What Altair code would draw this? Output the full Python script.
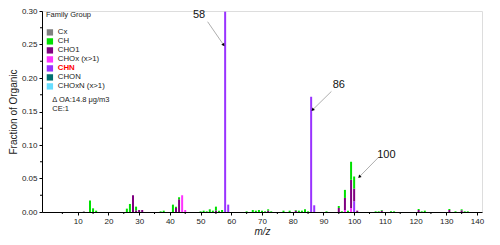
import altair as alt
import pandas as pd

families = ["Cx", "CH", "CHO1", "CHOx (x>1)", "CHN", "CHON", "CHOxN (x>1)"]
colors = ["#808080", "#00e000", "#800080", "#ff33ff", "#9933ff", "#007070", "#66ddff"]
stack_rank = {"CHN": 0, "CHON": 1, "CHOxN (x>1)": 2, "CHOx (x>1)": 3, "CHO1": 4, "CH": 5, "Cx": 6}

mz = [12, 14, 15, 16, 26, 27, 28, 29, 29, 30, 31, 37, 38, 41, 42, 42, 43, 43, 44, 45,
      50, 51, 52, 53, 54, 55, 55, 56, 57, 58, 59, 65, 67, 68, 69, 70, 71, 72, 72, 73,
      77, 79, 81, 81, 82, 83, 84, 85, 86, 87, 91, 95, 95, 96, 97, 97, 97, 98, 99, 99, 99,
      100, 100, 100, 101, 107, 108, 109, 109, 112, 113, 121, 121, 122, 123, 131, 131,
      133, 135, 135, 136, 137]
family = ["Cx", "CH", "CH", "CH", "CH", "CH", "CHO1", "CH", "CHO1", "CHO1", "CHO1", "CH", "CH",
          "CH", "CHO1", "CH", "CHO1", "CH", "CHOx (x>1)", "CHOx (x>1)",
          "CH", "CH", "CH", "CH", "CH", "CH", "CHO1", "CH", "CH", "CHN", "CHN", "CH", "CH", "CH",
          "CH", "CH", "CH", "CHO1", "CH", "CH",
          "CH", "CH", "CHO1", "CH", "CH", "CH", "CH", "CH", "CHN", "CHN", "CH", "CHO1", "CH", "CH",
          "CHOx (x>1)", "CHO1", "CH", "CH", "CHOx (x>1)", "CHO1", "CH",
          "CHN", "CHO1", "CH", "CHO1", "CH", "CH", "CHO1", "CH", "CH", "CH", "CHO1", "CH", "CH", "CH",
          "CHO1", "CH", "CH", "CHO1", "CH", "CH", "CH"]
fraction = [0.001, 0.017, 0.0055, 0.002, 0.005, 0.012, 0.025, 0.006, 0.002, 0.003, 0.003, 0.001, 0.002,
            0.011, 0.006, 0.002, 0.019, 0.003, 0.025, 0.003,
            0.001, 0.002, 0.001, 0.004, 0.002, 0.006, 0.002, 0.002, 0.003, 0.299, 0.011, 0.001, 0.003, 0.002,
            0.003, 0.002, 0.001, 0.002, 0.002, 0.001,
            0.002, 0.002, 0.002, 0.001, 0.002, 0.002, 0.004, 0.001, 0.172, 0.010, 0.001, 0.006, 0.003, 0.001,
            0.003, 0.018, 0.012, 0.002, 0.006, 0.042, 0.027,
            0.016, 0.019, 0.018, 0.002, 0.001, 0.001, 0.002, 0.001, 0.001, 0.001, 0.003, 0.0015, 0.001, 0.002,
            0.003, 0.0015, 0.001, 0.0025, 0.0015, 0.001, 0.001]

x_ticks = list(range(10, 141, 10))
y_ticks = [0, 0.05, 0.10, 0.15, 0.20, 0.25, 0.30]
x_minor = list(range(5, 140, 10))
y_minor = [0.025, 0.075, 0.125, 0.175, 0.225, 0.275]

# annotations (data coordinates)
ann_text = ["58", "86", "100"]
ann_tx = [49.5, 95.0, 110.5]
ann_ty = [0.294, 0.190, 0.085]
arr_x1 = [52.3, 92.6, 107.8]
arr_y1 = [0.284, 0.180, 0.081]
arr_x2 = [57.4, 86.6, 101.8]
arr_y2 = [0.250, 0.153, 0.053]
arr_angle = [145, 226, 225]

info_text = ["\u0394 OA:14.8 \u03bcg/m3", "CE:1"]
info_x = [1.7, 1.7]
info_y = [0.167, 0.153]

FONT = "Liberation Sans"
H = 201

df = pd.DataFrame({"mz": mz, "family": family, "fraction": fraction})
df["rank"] = df["family"].map(stack_rank)

xscale = alt.Scale(domain=[0, 140], nice=False, zero=False)
yscale = alt.Scale(domain=[0, 0.30], nice=False)

xaxis = alt.Axis(title="m/z", titleFontStyle="italic", values=x_ticks, labelOverlap=False)
yaxis = alt.Axis(title="Fraction of Organic", format=".2f", values=y_ticks, labelOverlap=False)


def X(f):
    return alt.X(f, scale=xscale, axis=xaxis)


def Y(f, **kw):
    return alt.Y(f, scale=yscale, axis=yaxis, **kw)


bars = alt.Chart(df).mark_bar(size=2).encode(
    x=X("mz:Q"),
    y=Y("fraction:Q", stack="zero"),
    color=alt.Color("family:N", scale=alt.Scale(domain=families, range=colors),
                    legend=alt.Legend(orient="none", legendX=4, legendY=0, title="Family Group",
                                      titleFontSize=7.5, titleFontWeight="normal", titleFont=FONT,
                                      titleColor="#222", titlePadding=10,
                                      labelFontSize=7.8, labelFont=FONT, symbolType="square",
                                      symbolSize=40, symbolStrokeWidth=0, rowPadding=0,
                                      labelColor=alt.ExprRef("datum.label == 'CHN' ? '#ff0000' : '#222'"),
                                      labelFontWeight=alt.ExprRef("datum.label == 'CHN' ? 'bold' : 'normal'"))),
    order=alt.Order("rank:Q"),
)

ann = pd.DataFrame({"t": ann_text, "x": ann_tx, "y": ann_ty, "x1": arr_x1, "y1": arr_y1,
                    "x2": arr_x2, "y2": arr_y2, "ang": arr_angle})

labels = alt.Chart(ann).mark_text(fontSize=11, font=FONT, color="#111").encode(
    x=X("x:Q"), y=Y("y:Q"), text="t:N")
lines = alt.Chart(ann).mark_rule(color="#999", strokeWidth=0.8).encode(
    x=X("x1:Q"), y=Y("y1:Q"), x2="x2:Q", y2="y2:Q")
heads = alt.Chart(ann).mark_point(shape="triangle", filled=True, color="#000", size=12, opacity=1).encode(
    x=X("x2:Q"), y=Y("y2:Q"), angle=alt.Angle("ang:Q", scale=None))

info = pd.DataFrame({"t": info_text, "x": info_x, "y": info_y})
info_marks = alt.Chart(info).mark_text(fontSize=7.5, font=FONT, color="#222", align="left").encode(
    x=X("x:Q"), y=Y("y:Q"), text="t:N")

# minor ticks
xm = alt.Chart(pd.DataFrame({"v": x_minor})).mark_rule(color="#000", strokeWidth=1).encode(
    x=X("v:Q"), y=alt.value(H), y2=alt.value(H + 2))
ym = alt.Chart(pd.DataFrame({"v": y_minor})).mark_rule(color="#000", strokeWidth=1).encode(
    y=Y("v:Q"), x=alt.value(0), x2=alt.value(-2))

chart = alt.layer(bars, lines, heads, labels, info_marks, xm, ym).properties(
    width=440, height=H,
    autosize=alt.AutoSizeParams(type="none"),
    padding={"left": 34, "top": 3, "right": 10, "bottom": 24},
).configure_view(stroke=None).configure(font=FONT).configure_axis(
    labelFontSize=8, titleFontSize=10, titleFontWeight="normal", grid=False, tickSize=3,
    domainColor="#000", tickColor="#000", labelColor="#222", titleColor="#222",
    labelFont=FONT, titleFont=FONT, labelOverlap=False, labelFlush=False,
).configure_axisX(titlePadding=1).configure_axisY(titlePadding=3)

chart.save("out.html", embed_options={"renderer": "svg", "actions": False})
